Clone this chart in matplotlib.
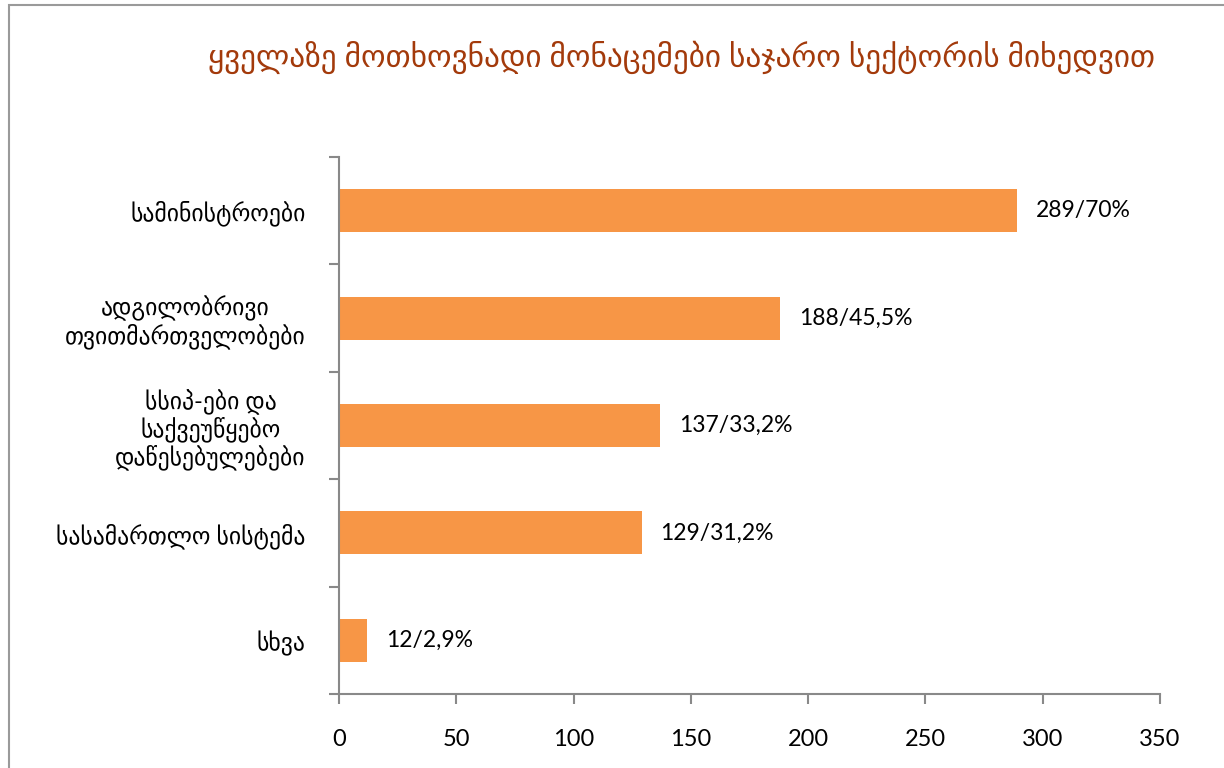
import matplotlib.pyplot as plt
from matplotlib.patches import Rectangle

categories = [
    "სამინისტროები",
    "ადგილობრივი\nთვითმართველობები",
    "სსიპ-ები და\nსაქვეუწყებო\nდაწესებულებები",
    "სასამართლო სისტემა",
    "სხვა",
]
values = [289, 188, 137, 129, 12]
value_labels = ["289/70%", "188/45,5%", "137/33,2%", "129/31,2%", "12/2,9%"]
title = "ყველაზე მოთხოვნადი მონაცემები საჯარო სექტორის მიხედვით"

fonts = ["Lato", "DejaVu Sans"]
plt.rcParams["font.family"] = fonts

fig = plt.figure(figsize=(12.24, 7.68), dpi=100)
ax = fig.add_axes([339 / 1224, 1 - 694 / 768, (1160 - 339) / 1224, (694 - 157) / 768])

# ჩარჩო
fig.patches.append(Rectangle((8.5 / 1224, -0.1), 1.2, 1.1 - 5.5 / 768,
                             transform=fig.transFigure, fill=False,
                             edgecolor="#9a9a9a", linewidth=1.5))

pos = list(range(len(categories)))[::-1]
ax.barh(pos, values, height=0.4, color="#F79646")
for p, v, lab in zip(pos, values, value_labels):
    ax.text(v + 8, p, lab, va="center", ha="left", fontsize=16.5, color="black")

ax.set_xlim(0, 350)
ax.set_ylim(-0.5, len(categories) - 0.5)
ax.set_xticks(range(0, 351, 50))
ax.set_yticks(pos)
ax.set_yticklabels(categories, fontsize=17, multialignment="center", linespacing=1.1)
ax.set_yticks([i - 0.5 for i in range(len(categories) + 1)], minor=True)

for s in ["top", "right"]:
    ax.spines[s].set_visible(False)
for s in ["left", "bottom"]:
    ax.spines[s].set_color("#898989")
    ax.spines[s].set_linewidth(1.5)

ax.tick_params(axis="y", which="major", length=0, pad=24)
ax.tick_params(axis="y", which="minor", length=7, width=1.5, color="#898989")
ax.tick_params(axis="x", length=7, width=1.5, color="#898989", labelsize=17, pad=18)

fig.text(681 / 1224, 1 - 57 / 768, title, ha="center", va="center",
         fontsize=22.5, color="#A33A0B")

plt.savefig("out.png", dpi=100)
